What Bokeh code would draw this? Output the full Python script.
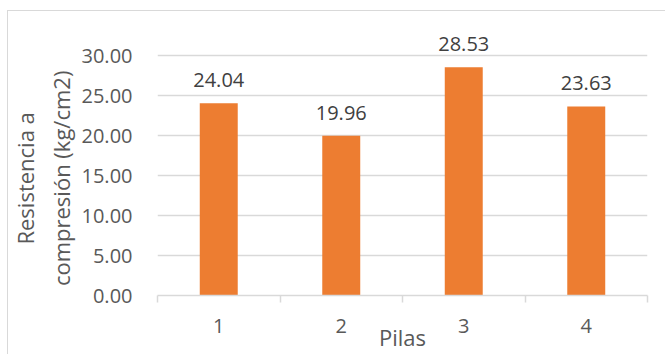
from bokeh.plotting import figure
from bokeh.models import FixedTicker, Range1d, PrintfTickFormatter, Title
from bokeh.core.properties import value
from bokeh.embed import file_html
from bokeh.resources import INLINE

categories = ["1", "2", "3", "4"]
resistencia = [24.04, 19.96, 28.53, 23.63]
y_ticks = [0, 5, 10, 15, 20, 25, 30]
x_title = "Pilas"
y_title_lines = ["Resistencia a", "compresión (kg/cm2)"]

positions = list(range(1, len(categories) + 1))
boundaries = [x - 0.5 for x in positions] + [positions[-1] + 0.5]
labels = [f"{v:.2f}" for v in resistencia]

FONT = "Open Sans"
GRID = "#d9d9d9"
TXT = "#595959"
PAD = "\u00a0" * 8  # trailing no-break spaces: moves the centred title down

p = figure(width=665, height=354, output_backend="svg", toolbar_location=None,
           x_range=Range1d(0.5, 4.5), y_range=Range1d(0, 35),
           min_border_left=157, min_border_right=18, min_border_top=15,
           min_border_bottom=59)
p.outline_line_color = None
p.border_fill_color = None
p.styles = {
    "background-image": "linear-gradient(#d9d9d9, #d9d9d9), linear-gradient(#d9d9d9, #d9d9d9)",
    "background-size": "1px 100%, 100% 1px",
    "background-position": "7px 10px, 7px 10px",
    "background-repeat": "no-repeat",
}

p.vbar(x=positions, top=resistencia, width=0.31, fill_color="#ED7D31", line_color=None)
p.text(x=positions, y=resistencia, text=labels, text_align="center",
       text_baseline="alphabetic", y_offset=-23, text_font=value(FONT),
       text_font_size="20px", text_color="#404040")

# y axis
p.yaxis.ticker = FixedTicker(ticks=y_ticks)
p.yaxis.formatter = PrintfTickFormatter(format="%.2f")
p.yaxis.axis_line_color = None
p.yaxis.major_tick_line_color = None
p.yaxis.minor_tick_line_color = None
p.yaxis.major_tick_out = 0
p.yaxis.major_label_standoff = 25
p.yaxis.major_label_text_font = FONT
p.yaxis.major_label_text_font_size = "20px"
p.yaxis.major_label_text_color = TXT

# y title: inner line first (closest to the axis), then outer line
for line, standoff in zip(reversed(y_title_lines), [6, 2]):
    p.add_layout(Title(text=line + PAD, align="center", standoff=standoff,
                       text_font=FONT, text_font_size="22px",
                       text_font_style="normal", text_color=TXT), "left")

# x axis
p.xaxis.ticker = FixedTicker(ticks=positions, minor_ticks=boundaries)
p.xaxis.major_label_overrides = {x: c for x, c in zip(positions, categories)}
p.xaxis.axis_line_color = GRID
p.xaxis.axis_line_width = 1.5
p.xaxis.major_tick_line_color = None
p.xaxis.major_tick_out = 0
p.xaxis.major_tick_in = 0
p.xaxis.minor_tick_line_color = GRID
p.xaxis.minor_tick_line_width = 1.5
p.xaxis.minor_tick_out = 7
p.xaxis.minor_tick_in = 0
p.xaxis.major_label_standoff = 16
p.xaxis.major_label_text_font = FONT
p.xaxis.major_label_text_font_size = "20px"
p.xaxis.major_label_text_color = TXT
p.xaxis.axis_label = x_title
p.xaxis.axis_label_text_font = FONT
p.xaxis.axis_label_text_font_size = "22px"
p.xaxis.axis_label_text_font_style = "normal"
p.xaxis.axis_label_text_color = TXT
p.xaxis.axis_label_standoff = -14

p.xgrid.grid_line_color = None
p.ygrid.ticker = FixedTicker(ticks=y_ticks)
p.ygrid.grid_line_color = GRID
p.ygrid.grid_line_width = 1.5

open("out.html", "w").write(file_html(p, INLINE))
